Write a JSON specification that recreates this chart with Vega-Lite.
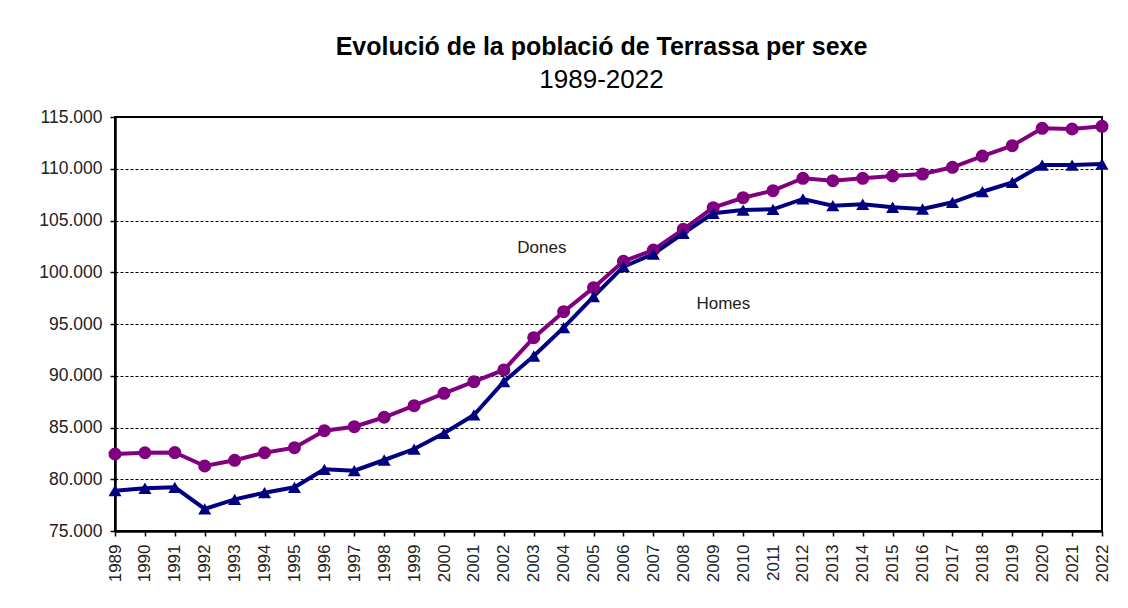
{
  "$schema": "https://vega.github.io/schema/vega-lite/v6.json",
  "width": 987,
  "height": 414,
  "autosize": {"type": "none"},
  "padding": {"left": 115, "top": 117, "right": 26, "bottom": 77},
  "background": "white",
  "title": {
    "text": "Evolució de la població de Terrassa per sexe",
    "subtitle": "1989-2022",
    "anchor": "middle",
    "dx": -7,
    "offset": 15,
    "font": "Liberation Sans",
    "fontSize": 25,
    "fontWeight": "bold",
    "color": "#000000",
    "subtitleFont": "Liberation Sans",
    "subtitleFontSize": 26,
    "subtitleColor": "#000000",
    "subtitlePadding": 7
  },
  "config": {
    "view": {"stroke": "#000000", "strokeWidth": 2},
    "axis": {
      "labelFont": "Liberation Sans",
      "labelColor": "#222222",
      "domainColor": "#000000",
      "domainWidth": 2.5,
      "tickColor": "#000000",
      "tickWidth": 1.5,
      "tickSize": 5
    }
  },
  "datasets": {
    "pop": [
      {"year": 1989, "sexe": "Dones", "value": 82440},
      {"year": 1990, "sexe": "Dones", "value": 82560},
      {"year": 1991, "sexe": "Dones", "value": 82580},
      {"year": 1992, "sexe": "Dones", "value": 81280},
      {"year": 1993, "sexe": "Dones", "value": 81830},
      {"year": 1994, "sexe": "Dones", "value": 82560},
      {"year": 1995, "sexe": "Dones", "value": 83050},
      {"year": 1996, "sexe": "Dones", "value": 84690},
      {"year": 1997, "sexe": "Dones", "value": 85080},
      {"year": 1998, "sexe": "Dones", "value": 85990},
      {"year": 1999, "sexe": "Dones", "value": 87110},
      {"year": 2000, "sexe": "Dones", "value": 88300},
      {"year": 2001, "sexe": "Dones", "value": 89430},
      {"year": 2002, "sexe": "Dones", "value": 90560},
      {"year": 2003, "sexe": "Dones", "value": 93680},
      {"year": 2004, "sexe": "Dones", "value": 96190},
      {"year": 2005, "sexe": "Dones", "value": 98510},
      {"year": 2006, "sexe": "Dones", "value": 101060},
      {"year": 2007, "sexe": "Dones", "value": 102150},
      {"year": 2008, "sexe": "Dones", "value": 104150},
      {"year": 2009, "sexe": "Dones", "value": 106240},
      {"year": 2010, "sexe": "Dones", "value": 107200},
      {"year": 2011, "sexe": "Dones", "value": 107880},
      {"year": 2012, "sexe": "Dones", "value": 109080},
      {"year": 2013, "sexe": "Dones", "value": 108850},
      {"year": 2014, "sexe": "Dones", "value": 109080},
      {"year": 2015, "sexe": "Dones", "value": 109300},
      {"year": 2016, "sexe": "Dones", "value": 109490},
      {"year": 2017, "sexe": "Dones", "value": 110140},
      {"year": 2018, "sexe": "Dones", "value": 111230},
      {"year": 2019, "sexe": "Dones", "value": 112230},
      {"year": 2020, "sexe": "Dones", "value": 113910},
      {"year": 2021, "sexe": "Dones", "value": 113840},
      {"year": 2022, "sexe": "Dones", "value": 114100},
      {"year": 1989, "sexe": "Homes", "value": 78900},
      {"year": 1990, "sexe": "Homes", "value": 79130},
      {"year": 1991, "sexe": "Homes", "value": 79220},
      {"year": 1992, "sexe": "Homes", "value": 77130},
      {"year": 1993, "sexe": "Homes", "value": 78060},
      {"year": 1994, "sexe": "Homes", "value": 78700},
      {"year": 1995, "sexe": "Homes", "value": 79220},
      {"year": 1996, "sexe": "Homes", "value": 80960},
      {"year": 1997, "sexe": "Homes", "value": 80830},
      {"year": 1998, "sexe": "Homes", "value": 81860},
      {"year": 1999, "sexe": "Homes", "value": 82920},
      {"year": 2000, "sexe": "Homes", "value": 84440},
      {"year": 2001, "sexe": "Homes", "value": 86210},
      {"year": 2002, "sexe": "Homes", "value": 89430},
      {"year": 2003, "sexe": "Homes", "value": 91910},
      {"year": 2004, "sexe": "Homes", "value": 94650},
      {"year": 2005, "sexe": "Homes", "value": 97640},
      {"year": 2006, "sexe": "Homes", "value": 100540},
      {"year": 2007, "sexe": "Homes", "value": 101760},
      {"year": 2008, "sexe": "Homes", "value": 103760},
      {"year": 2009, "sexe": "Homes", "value": 105700},
      {"year": 2010, "sexe": "Homes", "value": 106010},
      {"year": 2011, "sexe": "Homes", "value": 106080},
      {"year": 2012, "sexe": "Homes", "value": 107080},
      {"year": 2013, "sexe": "Homes", "value": 106430},
      {"year": 2014, "sexe": "Homes", "value": 106570},
      {"year": 2015, "sexe": "Homes", "value": 106280},
      {"year": 2016, "sexe": "Homes", "value": 106110},
      {"year": 2017, "sexe": "Homes", "value": 106760},
      {"year": 2018, "sexe": "Homes", "value": 107780},
      {"year": 2019, "sexe": "Homes", "value": 108690},
      {"year": 2020, "sexe": "Homes", "value": 110360},
      {"year": 2021, "sexe": "Homes", "value": 110360},
      {"year": 2022, "sexe": "Homes", "value": 110460}
    ],
    "labels": [
      {"year": 2003.27, "value": 102310, "label": "Dones"},
      {"year": 2009.34, "value": 96930, "label": "Homes"}
    ]
  },
  "encoding": {
    "x": {
      "field": "year",
      "type": "quantitative",
      "scale": {"domain": [1989, 2022], "nice": false, "zero": false},
      "axis": {
        "title": null,
        "grid": false,
        "values": [1989,1990,1991,1992,1993,1994,1995,1996,1997,1998,1999,2000,2001,2002,2003,2004,2005,2006,2007,2008,2009,2010,2011,2012,2013,2014,2015,2016,2017,2018,2019,2020,2021,2022],
        "format": "d",
        "labelAngle": -90,
        "labelFontSize": 17,
        "labelPadding": 8,
        "labelOverlap": false
      }
    },
    "y": {
      "field": "value",
      "type": "quantitative",
      "scale": {"domain": [75000, 115000], "nice": false, "zero": false},
      "axis": {
        "title": null,
        "values": [75000, 80000, 85000, 90000, 95000, 100000, 105000, 110000, 115000],
        "labelExpr": "replace(format(datum.value, ',d'), ',', '.')",
        "labelFontSize": 17.5,
        "labelPadding": 8,
        "grid": true,
        "gridColor": "#000000",
        "gridWidth": 1,
        "gridDash": [3, 2]
      }
    }
  },
  "layer": [
    {
      "data": {"name": "pop"},
      "mark": {"type": "line", "strokeWidth": 4},
      "encoding": {
        "color": {"field": "sexe", "type": "nominal", "scale": {"domain": ["Dones", "Homes"], "range": ["#800080", "#000080"]}, "legend": null}
      }
    },
    {
      "data": {"name": "pop"},
      "mark": {"type": "point", "filled": true, "opacity": 1, "size": 170},
      "encoding": {
        "color": {"field": "sexe", "type": "nominal", "scale": {"domain": ["Dones", "Homes"], "range": ["#800080", "#000080"]}, "legend": null},
        "shape": {"field": "sexe", "type": "nominal", "scale": {"domain": ["Dones", "Homes"], "range": ["circle", "triangle-up"]}, "legend": null}
      }
    },
    {
      "data": {"name": "labels"},
      "mark": {"type": "text", "font": "Liberation Sans", "fontSize": 17, "color": "#222222", "align": "center", "baseline": "middle"},
      "encoding": {
        "text": {"field": "label", "type": "nominal"}
      }
    }
  ]
}
